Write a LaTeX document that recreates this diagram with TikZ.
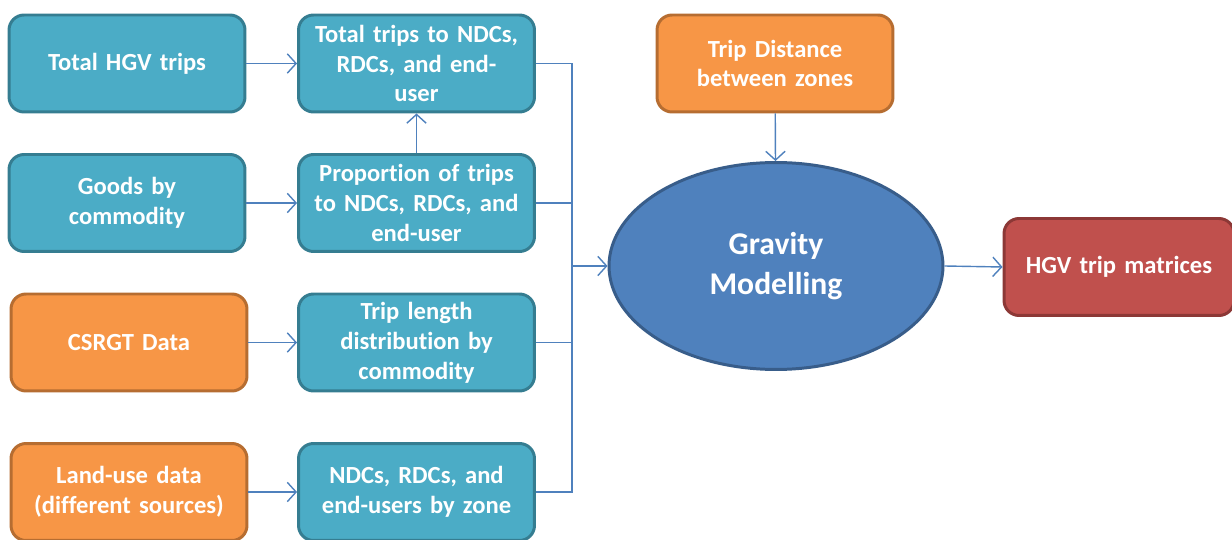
\documentclass[tikz,border=0pt]{standalone}
\usepackage{fontspec}
\setmainfont{Carlito}[Ligatures=NoCommon]
\usepackage{xcolor}
\usepackage{tikz}
\usetikzlibrary{arrows.meta, shapes.geometric, positioning}

\definecolor{tealfill}{HTML}{4BACC6}
\definecolor{tealedge}{HTML}{357D91}
\definecolor{orgfill}{HTML}{F79646}
\definecolor{orgedge}{HTML}{B66D31}
\definecolor{bluefill}{HTML}{4F81BD}
\definecolor{blueedge}{HTML}{385D8A}
\definecolor{redfill}{HTML}{C0504D}
\definecolor{rededge}{HTML}{8C3836}
\definecolor{linkcol}{HTML}{4F81BD}

\tikzset{
    box/.style={draw=tealedge, fill=tealfill, line width=1.7pt, rounded corners=0.3cm,
        minimum width=4.72cm, minimum height=1.94cm, text width=4.5cm, align=center,
        text=white, font=\fontsize{14}{17}\selectfont\bfseries, inner sep=0pt},
    srcbox/.style={box, draw=orgedge, fill=orgfill},
    outbox/.style={box, draw=rededge, fill=redfill},
    link/.style={draw=linkcol, line width=0.8pt, -{Straight Barb[length=5pt, width=11pt]}},
    bus/.style={draw=linkcol, line width=0.8pt}
}

\begin{document}
\begin{tikzpicture}[x=0.02cm, y=-0.02cm]
    \useasboundingbox (0,0) rectangle (1232,540);

    % Cột trái: dữ liệu đầu vào
    \node[box] (hgv) at (127,63.5) {Total HGV trips};
    \node[box] (goods) at (127,203) {Goods by\\commodity};
    \node[srcbox] (csrgt) at (129,342.5) {CSRGT Data};
    \node[srcbox] (land) at (129,492) {Land-use data\\(different sources)};

    % Cột giữa
    \node[box] (total) at (416.5,63.5) {Total trips to NDCs,\\RDCs, and end-\\user};
    \node[box] (prop) at (416.5,203) {Proportion of trips\\to NDCs, RDCs, and\\end-user};
    \node[box] (tld) at (416.5,342.5) {Trip length\\distribution by\\commodity};
    \node[box] (zone) at (416.5,492) {NDCs, RDCs, and\\end-users by zone};

    % Mô hình trọng lực
    \node[srcbox] (dist) at (775,63.5) {Trip Distance\\between zones};
    \node[ellipse, draw=blueedge, fill=bluefill, line width=1.7pt,
        minimum width=6.68cm, minimum height=4.14cm, text=white, align=center,
        font=\fontsize{18}{23}\selectfont\bfseries] (grav) at (776,266) {Gravity\\Modelling};
    \node[outbox, minimum width=4.6cm, text width=4.3cm] (hgvmat) at (1119,267) {HGV trip matrices};

    % Mũi tên
    \draw[link] (hgv) -- (total);
    \draw[link] (goods) -- (prop);
    \draw[link] (csrgt) -- (tld);
    \draw[link] (land) -- (zone);
    \draw[link] (prop) -- (total);

    \coordinate (bustop) at (572,63.5);
    \coordinate (busbot) at (572,492);
    \coordinate (busmid) at (572,266);
    \draw[bus] (total.east) -- (bustop) -- (busbot) -- (zone.east);
    \draw[bus] (prop.east) -- (prop.east -| bustop);
    \draw[bus] (tld.east) -- (tld.east -| bustop);
    \draw[link] (busmid) -- (grav.west);

    \draw[link] (dist) -- (grav);
    \draw[link] (grav.east) -- (hgvmat.west);
\end{tikzpicture}
\end{document}
